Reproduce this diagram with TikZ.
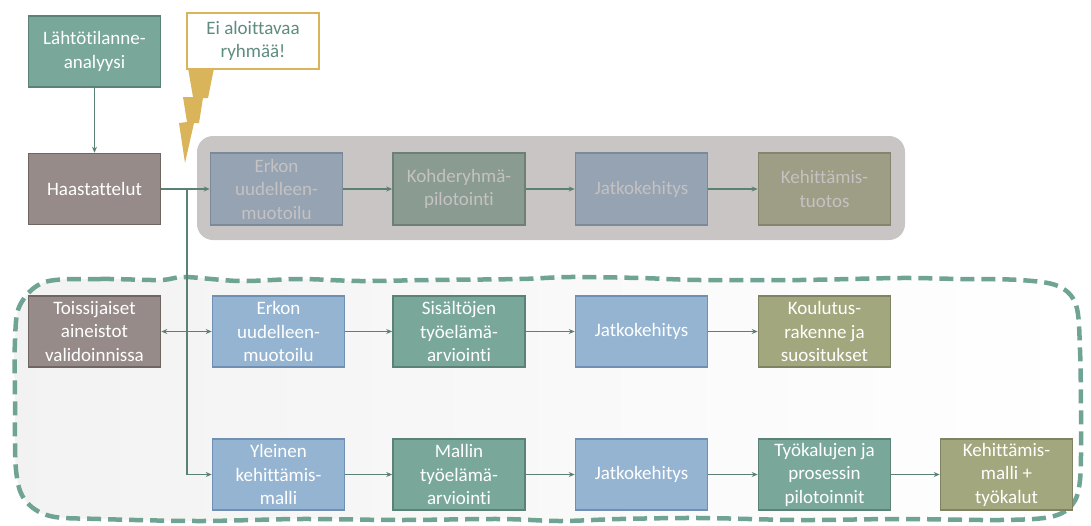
\documentclass[tikz,border=0pt]{standalone}
\usepackage{fontspec}
\setmainfont[Ligatures=NoCommon]{Carlito}
\usetikzlibrary{arrows.meta}
\definecolor{lnk}{HTML}{5B8074}
\definecolor{dsh}{HTML}{6FA394}
\definecolor{grn}{HTML}{79A89B}\definecolor{grnb}{HTML}{5A8276}
\definecolor{brw}{HTML}{968B89}\definecolor{brwb}{HTML}{6F6563}
\definecolor{blu}{HTML}{95B4D2}\definecolor{blub}{HTML}{6F90B3}
\definecolor{olv}{HTML}{A3A77D}\definecolor{olvb}{HTML}{7F8361}
\definecolor{gbl}{HTML}{96A3B2}\definecolor{gblb}{HTML}{7C8999}
\definecolor{ggr}{HTML}{8A9B91}\definecolor{ggrb}{HTML}{6F7F75}
\definecolor{gol}{HTML}{9E9D85}\definecolor{golb}{HTML}{85846C}
\definecolor{gpan}{HTML}{C9C5C4}
\definecolor{gtx}{HTML}{C4C2C2}
\definecolor{gold}{HTML}{D9B45A}
\definecolor{ctx}{HTML}{5F8C80}
\tikzset{
  bx/.style={rectangle, draw, line width=1.6pt, minimum width=132pt, minimum height=71pt,
    inner sep=1pt, align=center, text=white, font=\fontsize{19}{23.5}\selectfont},
  gbx/.style={bx, minimum height=72pt, text=gtx},
  lk/.style={draw=lnk, line width=1.7pt, -{Stealth[length=6pt,width=5pt]}},
}
\begin{document}
\begin{tikzpicture}[x=1pt,y=-1pt]
\useasboundingbox (0,0) rectangle (1091,525);
% dashed region
\def\dashreg{plot[smooth cycle, tension=0.55] coordinates {
 (45,282) (100,279) (160,280) (185,277) (240,281) (300,279) (360,281) (430,280) (520,279)
 (570,277) (640,278) (700,280) (800,280) (900,278) (960,279) (1020,280) (1058,286)
 (1076,305) (1080,350) (1081,420) (1080,480) (1072,505) (1050,517) (1000,520) (900,519)
 (800,520) (700,518) (620,519) (560,521) (500,519) (400,520) (300,519) (200,521) (100,519)
 (50,516) (25,500) (16,470) (15,400) (15,340) (20,305)}}
\shade[left color=black!5, right color=white] \dashreg;
\draw[dsh, line width=4.5pt, dash pattern=on 14pt off 7pt] \dashreg;
% gray panel
\fill[gpan, rounded corners=16pt] (197,136) rectangle (905,240);
% callout
\fill[gold] (188,68) -- (214,68) -- (208,98) -- (203,98) -- (199,123) -- (194,123) -- (185,163)
  -- (179,123) -- (187,122) -- (183,97) -- (193,97) -- cycle;
\node[draw=gold, fill=white, line width=1.5pt, minimum width=132pt, minimum height=56pt,
  inner sep=1pt, align=center, text=ctx, font=\fontsize{19}{23.5}\selectfont] (call) at (253,41) {Ei aloittavaa\\ryhmää!};
% nodes
\node[bx, fill=grn, draw=grnb] (lahto) at (94.5,51.5) {Lähtötilanne-\\analyysi};
\node[bx, fill=brw, draw=brwb] (haas) at (94.5,189) {Haastattelut};
\node[gbx, fill=gbl, draw=gblb] (e1) at (276.5,189) {Erkon\\uudelleen-\\muotoilu};
\node[gbx, fill=ggr, draw=ggrb] (k1) at (459,189) {Kohderyhmä-\\pilotointi};
\node[gbx, fill=gbl, draw=gblb] (j1) at (641.5,189) {Jatkokehitys};
\node[gbx, fill=gol, draw=golb] (t1) at (824.5,189) {Kehittämis-\\tuotos};
\node[bx, fill=brw, draw=brwb] (tois) at (94.5,331.5) {Toissijaiset\\aineistot\\validoinnissa};
\node[bx, fill=blu, draw=blub] (e2) at (278.5,331.5) {Erkon\\uudelleen-\\muotoilu};
\node[bx, fill=grn, draw=grnb] (s2) at (459,331.5) {Sisältöjen\\työelämä-\\arviointi};
\node[bx, fill=blu, draw=blub] (j2) at (641.5,331.5) {Jatkokehitys};
\node[bx, fill=olv, draw=olvb] (ko2) at (824.5,331.5) {Koulutus-\\rakenne ja\\suositukset};
\node[bx, fill=blu, draw=blub] (y3) at (278.5,474.5) {Yleinen\\kehittämis-\\malli};
\node[bx, fill=grn, draw=grnb] (m3) at (459,474.5) {Mallin\\työelämä-\\arviointi};
\node[bx, fill=blu, draw=blub] (j3) at (641.5,474.5) {Jatkokehitys};
\node[bx, fill=grn, draw=grnb] (ty3) at (824.5,474.5) {Työkalujen ja\\prosessin\\pilotoinnit};
\node[bx, fill=olv, draw=olvb] (ke3) at (1006.5,474.5) {Kehittämis-\\malli +\\työkalut};
% connectors
\coordinate (br) at (187,189);
\draw[lk] (lahto) -- (haas);
\draw[lk] (haas) -- (e1);
\draw[lk] (br) |- (y3);
\draw[draw=lnk, line width=1.7pt, {Stealth[length=6pt,width=5pt]}-{Stealth[length=6pt,width=5pt]}] (tois) -- (e2);
\draw[lk] (e1) -- (k1);
\draw[lk] (k1) -- (j1);
\draw[lk] (j1) -- (t1);
\draw[lk] (e2) -- (s2);
\draw[lk] (s2) -- (j2);
\draw[lk] (j2) -- (ko2);
\draw[lk] (y3) -- (m3);
\draw[lk] (m3) -- (j3);
\draw[lk] (j3) -- (ty3);
\draw[lk] (ty3) -- (ke3);
\end{tikzpicture}
\end{document}
